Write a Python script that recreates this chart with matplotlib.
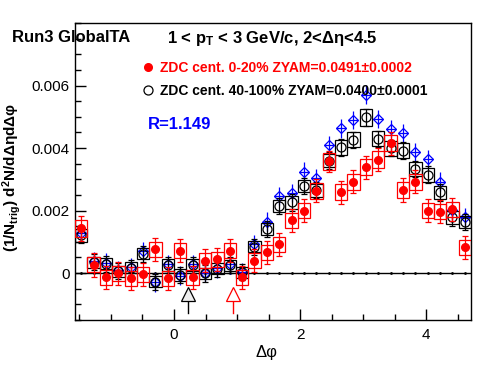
import numpy as np
import matplotlib.pyplot as plt
from matplotlib.patches import Rectangle
from matplotlib.ticker import MultipleLocator

plt.rcParams['font.family'] = 'Liberation Sans'
plt.rcParams['mathtext.fontset'] = 'custom'
plt.rcParams['mathtext.rm'] = 'Liberation Sans'
plt.rcParams['mathtext.bf'] = 'Liberation Sans:bold'
plt.rcParams['mathtext.it'] = 'Liberation Sans:italic'

# 32 bins in dphi from -pi/2 to 3pi/2
n_bins = 32

# ZDC 0-20% (red, filled circles)
red_y = [0.00143, 0.00026, -0.00013, 0.00000, -0.00017, -0.00004, 0.00076, -0.00017,
         0.00071, -0.00013, 0.00039, 0.00044, 0.00071, -0.00013, 0.00039, 0.00067,
         0.00092, 0.00169, 0.00199, 0.00263, 0.00357, 0.00259, 0.00292, 0.00339,
         0.00363, 0.00415, 0.00266, 0.00292, 0.00199, 0.00196, 0.00204, 0.00083]
red_err = [0.00040, 0.00037, 0.00037, 0.00037, 0.00037, 0.00037, 0.00037, 0.00037,
           0.00037, 0.00037, 0.00037, 0.00037, 0.00037, 0.00037, 0.00037, 0.00037,
           0.00037, 0.00037, 0.00037, 0.00037, 0.00033, 0.00037, 0.00037, 0.00037,
           0.00037, 0.00037, 0.00037, 0.00037, 0.00037, 0.00037, 0.00037, 0.00037]
red_sys = [0.00026, 0.00024, 0.00024, 0.00024, 0.00024, 0.00024, 0.00024, 0.00024,
           0.00024, 0.00024, 0.00024, 0.00024, 0.00024, 0.00024, 0.00024, 0.00024,
           0.00024, 0.00024, 0.00024, 0.00025, 0.00026, 0.00025, 0.00025, 0.00026,
           0.00026, 0.00026, 0.00025, 0.00025, 0.00024, 0.00024, 0.00024, 0.00024]

# ZDC 40-100% (black, open circles)
black_y = [0.00121, 0.00035, 0.00030, 0.00006, 0.00017, 0.00062, -0.00028, 0.00026,
           -0.00006, 0.00026, -0.00001, 0.00014, 0.00025, 0.00003, 0.00084, 0.00140,
           0.00215, 0.00226, 0.00279, 0.00265, 0.00360, 0.00402, 0.00426, 0.00498,
           0.00429, 0.00400, 0.00392, 0.00333, 0.00315, 0.00258, 0.00178, 0.00164]
black_err = [0.00026] * 32
black_sys = [0.00020, 0.00018, 0.00018, 0.00018, 0.00018, 0.00018, 0.00018, 0.00018,
             0.00018, 0.00018, 0.00018, 0.00018, 0.00018, 0.00018, 0.00018, 0.00019,
             0.00020, 0.00020, 0.00018, 0.00020, 0.00022, 0.00024, 0.00024, 0.00026,
             0.00024, 0.00024, 0.00024, 0.00022, 0.00022, 0.00020, 0.00020, 0.00020]

# 40-100% scaled (blue, open diamonds)
blue_y = [0.00128, 0.00039, 0.00033, 0.00010, 0.00019, 0.00071, -0.00029, 0.00028,
          -0.00008, 0.00028, 0.00000, 0.00015, 0.00028, 0.00003, 0.00092, 0.00164,
          0.00247, 0.00256, 0.00324, 0.00304, 0.00410, 0.00463, 0.00490, 0.00571,
          0.00493, 0.00461, 0.00448, 0.00386, 0.00365, 0.00293, 0.00202, 0.00178]
blue_err = [0.00030] * 32

zyam_x = [0.23, 0.94]
R_value = "R=1.149"
label_red = "ZDC cent. 0-20% ZYAM=0.0491\u00b10.0002"
label_black = "ZDC cent. 40-100% ZYAM=0.0400\u00b10.0001"

edges = np.linspace(-np.pi / 2, 3 * np.pi / 2, n_bins + 1)
centers = 0.5 * (edges[:-1] + edges[1:])
width = edges[1] - edges[0]

fig = plt.figure(figsize=(4.96, 3.74), dpi=100)
ax = fig.add_axes([75 / 496, 1 - 320 / 374, 396 / 496, 297 / 374])

ax.axhline(0, color='black', lw=1.0, zorder=1)
ax.plot(centers, np.zeros(n_bins), 'k.', ms=2, zorder=1)

# blue
ax.errorbar(centers, blue_y, yerr=blue_err, xerr=0.08, fmt='D', ms=5,
            mfc='none', mec='blue', ecolor='blue', elinewidth=0.9, mew=0.9,
            capsize=0, zorder=2)

# black boxes + points
for c, y, s in zip(centers, black_y, black_sys):
    ax.add_patch(Rectangle((c - width / 2, y - s), width, 2 * s, fill=False,
                           edgecolor='black', lw=0.9, zorder=3))
ax.errorbar(centers, black_y, yerr=black_err, fmt='o', ms=6.5, mfc='none',
            mec='black', ecolor='black', elinewidth=0.9, mew=0.9, capsize=2.5,
            capthick=0.9, zorder=4)

# red boxes + points
for c, y, s in zip(centers, red_y, red_sys):
    ax.add_patch(Rectangle((c - width / 2, y - s), width, 2 * s, fill=False,
                           edgecolor='red', lw=0.9, zorder=5))
ax.errorbar(centers, red_y, yerr=red_err, fmt='o', ms=5.5, mfc='red',
            mec='red', ecolor='red', elinewidth=0.9, capsize=2.5,
            capthick=0.9, zorder=6)

# ZYAM arrows
for xz, col, fc in zip(zyam_x, ['black', 'red'], ['#eeeeee', 'white']):
    ax.plot([xz, xz], [-0.00128, -0.00082], color=col, lw=1.0, zorder=7)
    ax.plot([xz], [-0.00066], marker='^', ms=10, mfc=fc, mec=col, mew=0.9,
            zorder=7)

ax.set_xlim(-np.pi / 2, 3 * np.pi / 2)
ax.set_ylim(-0.0015, 0.008)
ax.set_xticks([0, 2, 4])
ax.set_xticklabels(['0', '2', '4'])
ax.xaxis.set_minor_locator(MultipleLocator(0.5))
ax.set_yticks([0, 0.002, 0.004, 0.006])
ax.set_yticklabels(['0', '0.002', '0.004', '0.006'])
ax.yaxis.set_minor_locator(MultipleLocator(0.0005))
ax.tick_params(which='both', direction='in', top=False, right=False,
               labelsize=11, width=1)
ax.tick_params(which='major', length=8)
ax.tick_params(which='minor', length=4)
ax.tick_params(axis='x', pad=6)
ax.tick_params(axis='y', pad=4)
for sp in ax.spines.values():
    sp.set_linewidth(1.0)

fig.text(12 / 496, 1 - 42 / 374, "Run3 GlobalTA", fontsize=12,
         weight='bold', va='baseline')
fig.text(167 / 496, 1 - 43 / 374,
         "1 < p$_{\\mathbf{T}}$ < 3 GeV/c, 2<\u0394\u03b7<4.5",
         fontsize=12, weight='bold', va='baseline')

fig.lines.append(plt.Line2D([148 / 496], [1 - 67 / 374], marker='o', ms=5.5,
                            color='red', transform=fig.transFigure))
fig.lines.append(plt.Line2D([148 / 496], [1 - 90 / 374], marker='o', ms=6.5,
                            mfc='none', mec='black', mew=0.9,
                            transform=fig.transFigure))
fig.text(160 / 496, 1 - 72 / 374, label_red, fontsize=10, weight='bold',
         color='red', va='baseline')
fig.text(160 / 496, 1 - 95 / 374, label_black, fontsize=10, weight='bold',
         color='black', va='baseline')
fig.text(148 / 496, 1 - 129 / 374, R_value, fontsize=12, weight='bold',
         color='blue', va='baseline')

fig.text(12 / 496, 1 - 177 / 374,
         "(1/N$_{\\mathbf{trig}}$) d$^{\\mathbf{2}}$N/d\u0394\u03b7d\u0394\u03c6",
         fontsize=11, weight='bold', rotation=90, ha='center', va='center')
fig.text(266 / 496, 1 - 352 / 374, "\u0394\u03c6", fontsize=12,
         ha='center', va='center')

fig.savefig('out.png', dpi=100)
